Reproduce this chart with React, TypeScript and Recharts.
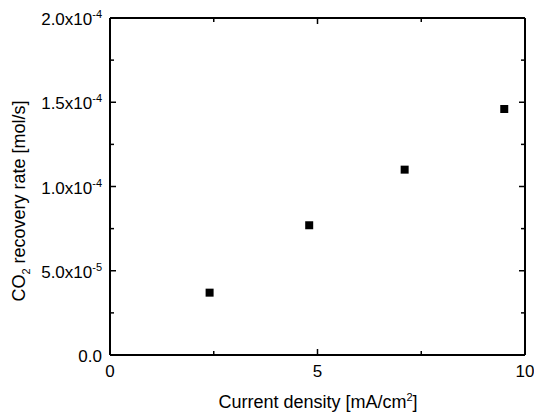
import { ScatterChart, Scatter, XAxis, YAxis, ZAxis } from "recharts";

const currentDensity = [2.4, 4.8, 7.1, 9.5];
const recoveryRate = [3.7e-5, 7.7e-5, 1.1e-4, 1.46e-4];

const xTicks = [0, 2.5, 5, 7.5, 10];
const xMajor = [0, 5, 10];
const yTicks = [0, 2.5e-5, 5e-5, 7.5e-5, 1e-4, 1.25e-4, 1.5e-4, 1.75e-4, 2e-4];
const yMajor = [0, 5e-5, 1e-4, 1.5e-4, 2e-4];

const points = currentDensity.map((x, i) => ({ x, y: recoveryRate[i] }));

const FONT = "'Liberation Sans', Arial, sans-serif";

const isMajor = (v: number, majors: number[]) => majors.some(m => Math.abs(m - v) < 1e-12);

function sciLabel(v: number) {
  if (v === 0) return { base: "0.0", exp: "" };
  const e = Math.floor(Math.log10(v) + 1e-9);
  const m = v / Math.pow(10, e);
  return { base: `${m.toFixed(1)}x10`, exp: `${e}` };
}

function BottomTick(props: any) {
  const { x, y, payload } = props;
  const major = isMajor(payload.value, xMajor);
  return (
    <g>
      <line x1={x} x2={x} y1={y} y2={y - (major ? 6 : 4)} stroke="#000" strokeWidth={1.5} />
      {major && (
        <text x={x} y={y + 22} textAnchor="middle" fontSize={17} fontFamily={FONT} fill="#000">
          {payload.value}
        </text>
      )}
    </g>
  );
}

function TopTick(props: any) {
  const { x, y, payload } = props;
  const major = isMajor(payload.value, xMajor);
  return <line x1={x} x2={x} y1={y} y2={y + (major ? 6 : 4)} stroke="#000" strokeWidth={1.5} />;
}

function LeftTick(props: any) {
  const { x, y, payload } = props;
  const major = isMajor(payload.value, yMajor);
  const lab = sciLabel(payload.value);
  return (
    <g>
      <line x1={x} x2={x + (major ? 6 : 4)} y1={y} y2={y} stroke="#000" strokeWidth={1.5} />
      {major && (
        <text x={x - 8} y={y + 7} textAnchor="end" fontSize={17} fontFamily={FONT} fill="#000">
          {lab.base}
          {lab.exp && (
            <tspan dy={-7} fontSize={11}>
              {lab.exp}
            </tspan>
          )}
        </text>
      )}
    </g>
  );
}

function RightTick(props: any) {
  const { x, y, payload } = props;
  const major = isMajor(payload.value, yMajor);
  return <line x1={x} x2={x - (major ? 6 : 4)} y1={y} y2={y} stroke="#000" strokeWidth={1.5} />;
}

const axisLine = { stroke: "#000", strokeWidth: 2 };

export default function App() {
  return (
    <div style={{ position: "absolute", left: 0, top: 0, width: 534, height: 415, background: "#fff" }}>
      <ScatterChart width={534} height={415} margin={{ top: 17, right: 8, bottom: 0, left: 0 }}>
        <XAxis
          dataKey="x"
          type="number"
          domain={[0, 10]}
          ticks={xTicks}
          height={60}
          tickSize={0}
          tickMargin={0}
          tickLine={false}
          stroke="#000"
          axisLine={axisLine}
          tick={<BottomTick />}
          interval={0}
        />
        <XAxis
          xAxisId="top"
          orientation="top"
          dataKey="x"
          type="number"
          domain={[0, 10]}
          ticks={xTicks}
          height={1}
          tickSize={0}
          tickMargin={0}
          tickLine={false}
          stroke="#000"
          axisLine={axisLine}
          tick={<TopTick />}
          interval={0}
        />
        <YAxis
          dataKey="y"
          type="number"
          domain={[0, 2e-4]}
          ticks={yTicks}
          width={110}
          tickSize={0}
          tickMargin={0}
          tickLine={false}
          stroke="#000"
          axisLine={axisLine}
          tick={<LeftTick />}
          interval={0}
        />
        <YAxis
          yAxisId="r"
          orientation="right"
          dataKey="y"
          type="number"
          domain={[0, 2e-4]}
          ticks={yTicks}
          width={1}
          tickSize={0}
          tickMargin={0}
          tickLine={false}
          stroke="#000"
          axisLine={axisLine}
          tick={<RightTick />}
          interval={0}
        />
        <ZAxis range={[100, 100]} />
        <Scatter data={points} shape="square" fill="#000" isAnimationActive={false} />
        <Scatter data={points} xAxisId="top" yAxisId="r" shape="square" fill="none" isAnimationActive={false} />
        <text x={318} y={408} textAnchor="middle" fontSize={18} fontFamily={FONT} fill="#000">
          Current density [mA/cm
          <tspan dy={-7} fontSize={11}>2</tspan>
          <tspan dy={7}>]</tspan>
        </text>
        <text
          x={25}
          y={201}
          transform="rotate(-90 25 201)"
          textAnchor="middle"
          fontSize={18}
          fontFamily={FONT}
          fill="#000"
        >
          CO
          <tspan dy={5} fontSize={11}>2</tspan>
          <tspan dy={-5}> recovery rate [mol/s]</tspan>
        </text>
      </ScatterChart>
    </div>
  );
}
